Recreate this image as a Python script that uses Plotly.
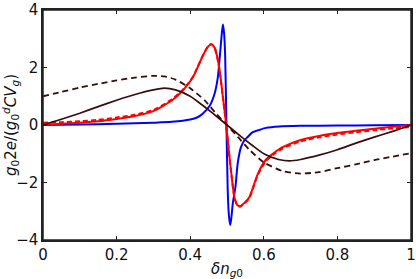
import plotly.graph_objects as go

# Blue curve (sharp resonance)
blue_x = [0.0, 0.1, 0.2, 0.3, 0.35, 0.4, 0.42, 0.434, 0.453, 0.466, 0.475, 0.481, 0.486,
          0.489, 0.492, 0.495, 0.4985, 0.502, 0.5055, 0.509, 0.512, 0.516, 0.523, 0.529,
          0.538, 0.547, 0.556, 0.57, 0.588, 0.606, 0.642, 0.7, 0.8, 0.9, 1.0]
blue_y = [0.0, 0.02, 0.04, 0.08, 0.11, 0.19, 0.27, 0.39, 0.67, 1.08, 1.65, 2.46, 3.2,
          3.5, 3.2, 2.4, 0.0, -2.3, -3.2, -3.48, -3.2, -2.7, -2.15, -1.34,
          -0.77, -0.54, -0.42, -0.25, -0.17, -0.1, -0.05, -0.03, -0.02, -0.01, 0.0]

# Red solid curve
red_x = [0.0, 0.05, 0.1, 0.15, 0.2, 0.25, 0.3, 0.35, 0.38, 0.407, 0.434, 0.447, 0.457,
         0.466, 0.473, 0.48, 0.489, 0.498, 0.505, 0.511, 0.52, 0.528, 0.536, 0.548,
         0.561, 0.584, 0.606, 0.63, 0.651, 0.7, 0.75, 0.8, 0.85, 0.9, 0.95, 1.0]
red_y = [0.0, 0.04, 0.08, 0.13, 0.21, 0.31, 0.48, 0.85, 1.2, 1.65, 2.4, 2.7, 2.81,
         2.7, 2.4, 1.9, 0.96, 0.0, -0.9, -1.6, -2.5, -2.78, -2.82, -2.7,
         -2.5, -1.69, -1.2, -0.95, -0.77, -0.52, -0.38, -0.28, -0.2, -0.13, -0.06, 0.0]

# Red dashed curve
redd_x = red_x
redd_y = [0.08, 0.1, 0.13, 0.18, 0.26, 0.36, 0.52, 0.89, 1.23, 1.67, 2.41, 2.71, 2.82,
          2.7, 2.38, 1.88, 0.94, -0.02, -0.92, -1.62, -2.51, -2.8, -2.84, -2.72,
          -2.53, -1.73, -1.25, -0.99, -0.82, -0.57, -0.43, -0.33, -0.25, -0.18, -0.12, -0.07]

# Dark solid curve
brown_x = [0.0, 0.05, 0.1, 0.15, 0.2, 0.25, 0.3, 0.33, 0.36, 0.4, 0.43, 0.46, 0.5,
           0.54, 0.57, 0.6, 0.64, 0.67, 0.7, 0.75, 0.8, 0.85, 0.9, 0.95, 1.0]
brown_y = [0.0, 0.2, 0.41, 0.64, 0.86, 1.06, 1.22, 1.28, 1.22, 1.0, 0.72, 0.42, 0.0,
           -0.42, -0.72, -1.0, -1.2, -1.25, -1.2, -1.05, -0.86, -0.63, -0.42, -0.22, 0.0]

# Dark dashed curve
brownd_x = [0.0, 0.05, 0.1, 0.15, 0.2, 0.25, 0.3, 0.33, 0.36, 0.4, 0.44, 0.47, 0.5,
            0.53, 0.56, 0.6, 0.65, 0.7, 0.75, 0.8, 0.85, 0.9, 0.95, 1.0]
brownd_y = [1.0, 1.15, 1.3, 1.43, 1.55, 1.65, 1.71, 1.69, 1.58, 1.28, 0.85, 0.4, 0.0,
            -0.42, -0.85, -1.3, -1.6, -1.69, -1.64, -1.5, -1.37, -1.22, -1.1, -0.98]

x_ticks = [0, 0.2, 0.4, 0.6, 0.8, 1]
x_ticklabels = ["0", "0.2", "0.4", "0.6", "0.8", "1"]
y_ticks = [-4, -2, 0, 2, 4]
y_ticklabels = ["\u22124", "\u22122", "0", "2", "4"]

DARK = "#3a0c0c"
FONT = "DejaVu Sans"
AXC = "#222222"

fig = go.Figure()
fig.add_trace(go.Scatter(x=blue_x, y=blue_y, mode="lines",
                         line=dict(color="#0000ff", width=2, shape="spline", smoothing=0.6)))
fig.add_trace(go.Scatter(x=red_x, y=red_y, mode="lines",
                         line=dict(color="#ff0000", width=2, shape="spline", smoothing=0.6)))
fig.add_trace(go.Scatter(x=redd_x, y=redd_y, mode="lines",
                         line=dict(color="#ff0000", width=2, dash="5px,3px", shape="spline", smoothing=0.6)))
fig.add_trace(go.Scatter(x=brown_x, y=brown_y, mode="lines",
                         line=dict(color=DARK, width=1.7, shape="spline", smoothing=0.6)))
fig.add_trace(go.Scatter(x=brownd_x, y=brownd_y, mode="lines",
                         line=dict(color=DARK, width=1.8, dash="6px,4px", shape="spline", smoothing=0.6)))

axis_common = dict(showgrid=False, zeroline=False, showline=True, mirror="allticks",
                   linecolor=AXC, linewidth=1.5, ticks="inside", ticklen=4,
                   tickcolor=AXC, automargin=False, ticklabeloverflow="allow",
                   tickfont=dict(family=FONT, size=15, color="#111111"))

fig.update_layout(
    width=416, height=279,
    margin=dict(l=43, r=5, t=10, b=39, autoexpand=False),
    paper_bgcolor="white", plot_bgcolor="white",
    showlegend=False,
    font=dict(family=FONT, color="#111111"),
    xaxis=dict(range=[0, 1], tickvals=x_ticks, ticktext=x_ticklabels,
               title=dict(text="<i>δn</i><sub><i>g</i>0</sub>", font=dict(family=FONT, size=15)),
               **axis_common),
    yaxis=dict(range=[-4, 4], tickvals=y_ticks, ticktext=y_ticklabels,
               title=dict(text="<i>g</i><sub>0</sub>2<i>e</i>/(<i>g</i><sub>0</sub><sup><i>d</i></sup><i>CV</i><sub><i>g</i></sub>)",
                          font=dict(family=FONT, size=15)),
               **axis_common),
    shapes=[dict(type="rect", xref="paper", yref="paper", x0=0, x1=1, y0=0, y1=1,
                 line=dict(color=AXC, width=1.5), layer="above")],
)

fig.write_html(
    "out.html",
    config={"displayModeBar": False},
    post_script=("document.documentElement.style.overflow='hidden';"
                 "document.body.style.overflow='hidden';"
                 "document.body.style.margin='0';document.body.style.padding='0';"),
)
